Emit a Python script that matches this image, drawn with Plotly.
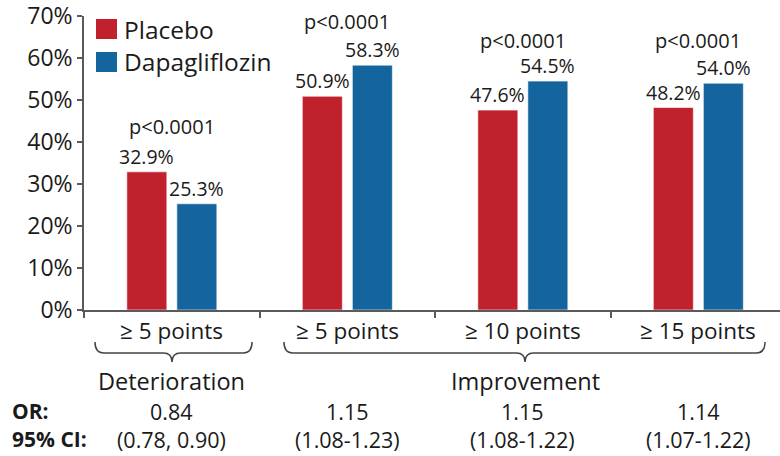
import plotly.graph_objects as go

# Data
categories = ["≥ 5 points", "≥ 5 points", "≥ 10 points", "≥ 15 points"]
placebo = [32.9, 50.9, 47.6, 48.2]
dapagliflozin = [25.3, 58.3, 54.5, 54.0]
p_values = ["p<0.0001", "p<0.0001", "p<0.0001", "p<0.0001"]
p_label_y = [43.6, 68.6, 64.2, 64.2]
odds_ratio = ["0.84", "1.15", "1.15", "1.14"]
conf_int = ["(0.78, 0.90)", "(1.08-1.23)", "(1.08-1.22)", "(1.07-1.22)"]
groups = ["Deterioration", "Improvement"]
y_ticks = [0, 10, 20, 30, 40, 50, 60, 70]

RED = "#C1202D"
BLUE = "#14659E"
TXT = "#1a1a1a"
AX = "#5a5a5a"
FONT = "Open Sans"

W, H = 780, 456
ML, MR, MT, MB = 84, 0, 16, 146
PW, PH = W - ML - MR, H - MT - MB

x = list(range(len(categories)))
bw = 0.228

fig = go.Figure()
fig.add_trace(go.Bar(x=x, y=placebo, name="Placebo", width=bw, offset=-0.256,
                     marker=dict(color=RED, line=dict(color="rgba(255,255,255,0.6)", width=1))))
fig.add_trace(go.Bar(x=x, y=dapagliflozin, name="Dapagliflozin", width=bw, offset=0.029,
                     marker=dict(color=BLUE, line=dict(color="rgba(255,255,255,0.6)", width=1))))

ann = []
# value labels above bars and p-values above each pair
for i, (a, b) in enumerate(zip(placebo, dapagliflozin)):
    ann.append(dict(x=i - 0.256 + bw / 2, y=a, text=f"{a:.1f}%", showarrow=False,
                    yanchor="bottom", yshift=0, font=dict(size=19.5, color=TXT)))
    ann.append(dict(x=i + 0.029 + bw / 2, y=b, text=f"{b:.1f}%", showarrow=False,
                    yanchor="bottom", yshift=0, font=dict(size=19.5, color=TXT)))
    ann.append(dict(x=i, y=p_label_y[i], text=p_values[i], showarrow=False,
                    yanchor="middle", font=dict(size=20, color=TXT)))

def py(pix):
    return (MT + PH - pix) / PH

def px(pix):
    return (pix - ML) / PW

# category labels, group labels and OR / CI rows
for i, c in enumerate(categories):
    ann.append(dict(x=i, y=py(330), yref="paper", text=c, showarrow=False,
                    yanchor="middle", font=dict(size=22.5, color=TXT)))
    ann.append(dict(x=i, y=py(411), yref="paper", text=odds_ratio[i], showarrow=False,
                    yanchor="middle", font=dict(size=21.5, color=TXT)))
    ann.append(dict(x=i, y=py(439), yref="paper", text=conf_int[i], showarrow=False,
                    yanchor="middle", font=dict(size=21.5, color=TXT)))

group_centers = [0.0, 2.013]
for g, xc in zip(groups, group_centers):
    ann.append(dict(x=xc, y=py(381), yref="paper", text=g, showarrow=False,
                    yanchor="middle", font=dict(size=23.5, color=TXT)))

ann.append(dict(x=px(10), y=py(411), xref="paper", yref="paper", text="<b>OR:</b>",
                showarrow=False, xanchor="left", yanchor="middle", font=dict(size=21, color=TXT)))
ann.append(dict(x=px(10), y=py(439), xref="paper", yref="paper", text="<b>95% CI:</b>",
                showarrow=False, xanchor="left", yanchor="middle", font=dict(size=21, color=TXT)))

# legend drawn as swatches + labels
shapes = []
legend_items = [("Placebo", RED, 29), ("Dapagliflozin", BLUE, 62)]
for name, col, cy in legend_items:
    shapes.append(dict(type="rect", xref="paper", yref="paper",
                       x0=px(96), x1=px(117), y0=py(cy - 10), y1=py(cy + 10),
                       fillcolor=col, line=dict(width=0)))
    ann.append(dict(x=px(122), y=py(cy), xref="paper", yref="paper", text=name,
                    showarrow=False, xanchor="left", yanchor="middle",
                    font=dict(size=24.5, color=TXT)))

# curly braces under the category labels
def brace(x1, x2, xc, y_top, y_line, y_tip, r):
    return (f"M {x1},{y_top} Q {x1},{y_line} {x1 + r},{y_line} "
            f"L {xc - r},{y_line} Q {xc},{y_line} {xc},{y_tip} "
            f"Q {xc},{y_line} {xc + r},{y_line} L {x2 - r},{y_line} "
            f"Q {x2},{y_line} {x2},{y_top}")

def dx(pix):
    return (pix - ML) / 175.5 - 0.5

for (l, r_, c) in [(95, 252, 172), (284, 765, 525)]:
    shapes.append(dict(type="path", xref="x", yref="paper",
                       path=brace(dx(l), dx(r_), dx(c), py(342), py(353), py(362), 0.05),
                       line=dict(color="#444444", width=1.5)))

fig.update_layout(
    width=W, height=H,
    margin=dict(l=ML, r=MR, t=MT, b=MB),
    plot_bgcolor="white", paper_bgcolor="white",
    font=dict(family=FONT, color=TXT),
    showlegend=False,
    annotations=ann, shapes=shapes,
    xaxis=dict(range=[-0.5, (W - ML) / 175.5 - 0.5], tickvals=[-0.5, 0.5, 1.5, 2.5],
               ticktext=["", "", "", ""], ticks="outside", ticklen=6, tickwidth=1.5,
               tickcolor=AX, showline=True, linecolor=AX, linewidth=1.5,
               showgrid=False, zeroline=False, fixedrange=True),
    yaxis=dict(range=[0, 70], tickvals=y_ticks, ticktext=[f"{v}%" for v in y_ticks],
               ticks="outside", ticklen=5, tickwidth=1.5, tickcolor=AX,
               showline=True, linecolor=AX, linewidth=1.5, showgrid=False,
               zeroline=False, tickfont=dict(size=23, color=TXT), fixedrange=True,
               ticklabeloverflow="allow"),
)

fig.write_html("out.html")
